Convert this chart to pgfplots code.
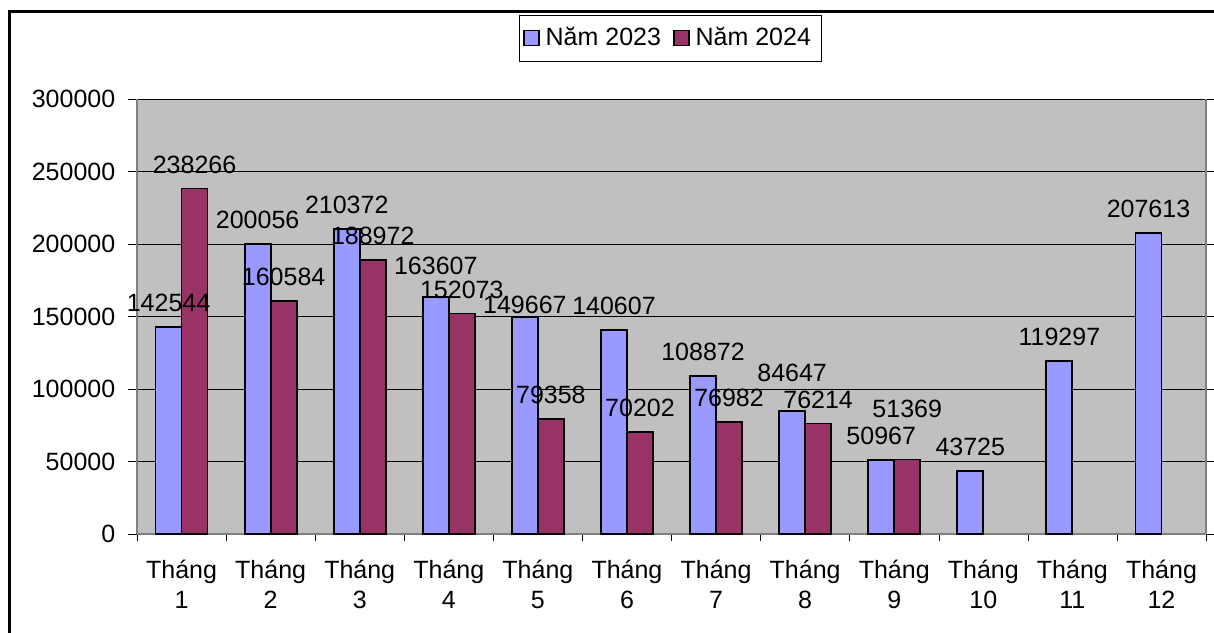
\documentclass[border=0pt]{standalone}
\usepackage{fontspec}
\setmainfont{Liberation Sans}
\usepackage{pgfplots}
\pgfplotsset{compat=1.18}
\definecolor{c23}{HTML}{9999FF}
\definecolor{c24}{HTML}{993366}
\definecolor{bg}{HTML}{C0C0C0}
\definecolor{frm}{HTML}{808080}
\newcommand{\fs}{\fontsize{12.5pt}{15pt}\selectfont}
\begin{document}
\fs
\begin{tikzpicture}
\useasboundingbox (0,0) rectangle (607pt,316pt);
\draw[line width=1.5pt] (4.5pt,-5pt) -- (4.5pt,310pt) -- (615pt,310pt);
\begin{axis}[at={(68.5pt,49pt)}, anchor=south west, scale only axis,
 width=534.5pt, height=217.5pt,
 ybar=0pt, bar width=13pt,
 xmin=0.5, xmax=12.5, ymin=0, ymax=300000,
 ytick={0,50000,100000,150000,200000,250000,300000},
 scaled y ticks=false,
 /pgf/number format/assume math mode=true,
 /pgf/number format/fixed, /pgf/number format/1000 sep={},
 xtick={1,...,12},
 xticklabels={{Tháng\\1},{Tháng\\2},{Tháng\\3},{Tháng\\4},{Tháng\\5},{Tháng\\6},{Tháng\\7},{Tháng\\8},{Tháng\\9},{Tháng\\10},{Tháng\\11},{Tháng\\12}},
 xticklabel style={align=center, font=\fs, yshift=-4pt},
 yticklabel style={font=\fs, xshift=-2pt},
 major x tick style={draw=none},
 minor xtick={0.5,1.5,...,12.5},
 minor x tick style={black},
 tick align=outside,
 major tick length=4.5pt, minor tick length=3.5pt,
 ytick style={black},
 ymajorgrids, major grid style={black, line width=0.5pt},
 axis line style={frm, line width=0.8pt},
 axis background/.style={fill=bg},
 axis x line*=bottom,
 nodes near coords,
 visualization depends on={\thisrow{dy} \as \dy},
 every node near coord/.append style={font=\fs, yshift=\dy pt, black},
 legend style={at={(0.4986,1.140)}, anchor=center, draw=black, fill=white,
   font=\fs, legend columns=2, inner xsep=2pt, inner ysep=1pt,
   nodes={inner xsep=3pt, inner ysep=5pt},
   /tikz/every even column/.append style={column sep=3pt}},
 legend image code/.code={\draw[#1, line width=0.8pt] (0pt,-3.75pt) rectangle (7.5pt,3.75pt);},
]
\addplot[fill=c23, draw=black, line width=0.9pt] table[x=x,y=y] {
x y dy
1 142544 3
2 200056 3
3 210372 3
4 163607 6.5
5 149667 -3
6 140607 3
7 108872 3
8 84647 10
9 50967 3
10 43725 3
11 119297 3
12 207613 3
};
\addplot[fill=c24, draw=black, line width=0.9pt] table[x=x,y=y] {
x y dy
1 238266 3
2 160584 3
3 188972 3
4 152073 3
5 79358 3
6 70202 3
7 76982 3
8 76214 3
9 51369 16.5
};
\legend{Năm 2023, Năm 2024}
\end{axis}
\end{tikzpicture}
\end{document}
